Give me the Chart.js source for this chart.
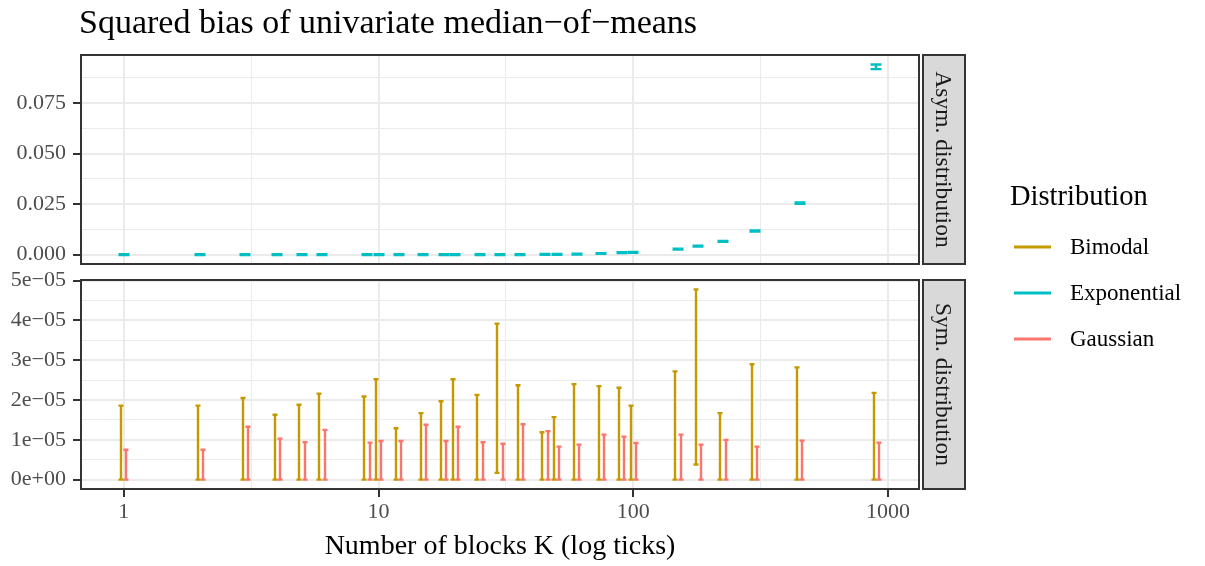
<!DOCTYPE html>
<html>
<head>
<meta charset="utf-8">
<title>Squared bias of univariate median−of−means</title>
<script src="https://cdn.jsdelivr.net/npm/chart.js@4.4.1/dist/chart.umd.min.js"></script>
<style>
  body { margin: 0; background: #fff; }
  #wrap { position: relative; width: 1205px; height: 566px; }
  #wrap canvas { position: absolute; left: 0; top: 0; width: 1205px; height: 566px; }
</style>
</head>
<body>
<div id="wrap">
  <canvas id="symChart" width="1205" height="566"></canvas>
  <canvas id="asymChart" width="1205" height="566"></canvas>
</div>
<script>
// number of blocks K (divisors of 900)
const blocks = [1, 2, 3, 4, 5, 6, 9, 10, 12, 15, 18, 20, 25, 30, 36, 45, 50, 60, 75, 90, 100, 150, 180, 225, 300, 450, 900];

// asymmetric case: exponential, interval bounds of the squared bias
const expLow = [-0.0002, -0.0002, -0.0002, -0.0002, -0.0002, -0.0002, -0.0002, -0.0002, -0.0002, -0.0002,
  -0.0002, -0.0002, -0.0002, -0.0002, -0.0002, 0.0000, 0.0000, 0.0001, 0.0004, 0.0008,
  0.0009, 0.0026, 0.0040, 0.0064, 0.0114, 0.0252, 0.0918];
const expHigh = [0.0002, 0.0002, 0.0002, 0.0002, 0.0002, 0.0002, 0.0002, 0.0002, 0.0002, 0.0002,
  0.0002, 0.0002, 0.0002, 0.0002, 0.0002, 0.0004, 0.0004, 0.0005, 0.0008, 0.0012,
  0.0013, 0.0030, 0.0044, 0.0068, 0.0120, 0.0258, 0.0941];

// symmetric cases: bimodal and gaussian
const bimodalLow = [0, 0, 0, 0, 0, 0, 0, 0, 0, 0, 0, 0, 0, 0.17e-5, 0, 0, 0, 0, 0, 0,
  0, 0, 0.38e-5, 0, 0, 0, 0];
const bimodalHigh = [1.86e-5, 1.86e-5, 2.05e-5, 1.63e-5, 1.88e-5, 2.16e-5, 2.09e-5, 2.52e-5, 1.29e-5, 1.67e-5,
  1.97e-5, 2.52e-5, 2.13e-5, 3.92e-5, 2.37e-5, 1.19e-5, 1.57e-5, 2.40e-5, 2.35e-5, 2.31e-5,
  1.86e-5, 2.72e-5, 4.78e-5, 1.67e-5, 2.90e-5, 2.82e-5, 2.18e-5];
const gaussLow = [0, 0, 0, 0, 0, 0, 0, 0, 0, 0, 0, 0, 0, 0, 0, 0, 0, 0, 0, 0,
  0, 0, 0, 0, 0, 0, 0];
const gaussHigh = [0.75e-5, 0.75e-5, 1.33e-5, 1.03e-5, 0.94e-5, 1.25e-5, 0.93e-5, 0.97e-5, 0.97e-5, 1.38e-5,
  0.97e-5, 1.33e-5, 0.94e-5, 0.90e-5, 1.39e-5, 1.22e-5, 0.83e-5, 0.88e-5, 1.13e-5, 1.08e-5,
  0.92e-5, 1.13e-5, 0.88e-5, 1.00e-5, 0.83e-5, 0.98e-5, 0.93e-5];

const seriesNames = ['Bimodal', 'Exponential', 'Gaussian'];
const seriesColors = ['#C49A00', '#00BFC4', '#F8766D'];

// axis ticks (empty label = minor grid line)
const xTickVals = [1, 3.1623, 10, 31.623, 100, 316.23, 1000];
const xTickLabels = ['1', '', '10', '', '100', '', '1000'];
const asymTickVals = [0, 0.0125, 0.025, 0.0375, 0.05, 0.0625, 0.075, 0.0875];
const asymTickLabels = ['0.000', '', '0.025', '', '0.050', '', '0.075', ''];
const symTickVals = [0, 0.5e-5, 1e-5, 1.5e-5, 2e-5, 2.5e-5, 3e-5, 3.5e-5, 4e-5, 4.5e-5, 5e-5];
const symTickLabels = ['0e+00', '', '1e−05', '', '2e−05', '', '3e−05', '', '4e−05', '', '5e−05'];

const FONT = "'Liberation Serif', 'Times New Roman', serif";
const GRID = '#EBEBEB';
const DARK = '#333333';
const X_MIN = 0.679, X_MAX = 1324;

function intervals(low, high) {
  return blocks.map((k, i) => ({ x: k, y: (low[i] + high[i]) / 2, yMin: low[i], yMax: high[i] }));
}

// vertical interval with caps for every point
const errorBars = {
  id: 'errorBars',
  afterDatasetsDraw(chart) {
    const { ctx, scales: { x, y } } = chart;
    ctx.save();
    chart.data.datasets.forEach(ds => {
      ctx.strokeStyle = ds.borderColor;
      ctx.lineWidth = 2.4;
      ctx.lineCap = 'butt';
      ds.data.forEach(p => {
        const px = Math.round(x.getPixelForValue(p.x) + ds.dodge);
        const y0 = y.getPixelForValue(p.yMin);
        const y1 = y.getPixelForValue(p.yMax);
        const w = ds.capHalf;
        ctx.beginPath();
        ctx.moveTo(px, y0); ctx.lineTo(px, y1);
        ctx.moveTo(px - w, y0); ctx.lineTo(px + w, y0);
        ctx.moveTo(px - w, y1); ctx.lineTo(px + w, y1);
        ctx.stroke();
      });
    });
    ctx.restore();
  }
};

// panel border and the facet strip on the right
const panelFrame = {
  id: 'panelFrame',
  afterDraw(chart, args, opts) {
    const { ctx, chartArea: a } = chart;
    ctx.save();
    ctx.strokeStyle = DARK;
    ctx.lineWidth = 2;
    ctx.strokeRect(a.left, a.top, a.right - a.left, a.bottom - a.top);
    const sx = a.right + 4, sw = 42;
    ctx.fillStyle = '#D9D9D9';
    ctx.fillRect(sx, a.top, sw, a.bottom - a.top);
    ctx.strokeRect(sx, a.top, sw, a.bottom - a.top);
    ctx.translate(sx + sw / 2 - 8, (a.top + a.bottom) / 2);
    ctx.rotate(Math.PI / 2);
    ctx.fillStyle = '#1A1A1A';
    ctx.font = '23.5px ' + FONT;
    ctx.textAlign = 'center';
    ctx.textBaseline = 'alphabetic';
    ctx.fillText(opts.label, 0, 0);
    ctx.restore();
  }
};

// title, x axis title and legend
const decorations = {
  id: 'decorations',
  afterDraw(chart) {
    const { ctx, chartArea: a } = chart;
    ctx.save();
    ctx.fillStyle = '#000';
    ctx.textBaseline = 'alphabetic';
    ctx.font = '34px ' + FONT;
    ctx.textAlign = 'left';
    ctx.fillText('Squared bias of univariate median−of−means', 79, 33);

    ctx.font = '28px ' + FONT;
    ctx.textAlign = 'center';
    ctx.fillText('Number of blocks K (log ticks)', (a.left + a.right) / 2, 554);

    ctx.textAlign = 'left';
    ctx.font = '28.5px ' + FONT;
    ctx.fillText('Distribution', 1010, 205);
    ctx.font = '23px ' + FONT;
    seriesNames.forEach((name, i) => {
      const ky = 247 + i * 46;
      ctx.strokeStyle = seriesColors[i];
      ctx.lineWidth = 3;
      ctx.beginPath();
      ctx.moveTo(1014, ky); ctx.lineTo(1051, ky);
      ctx.stroke();
      ctx.fillStyle = '#000';
      ctx.fillText(name, 1070, ky + 7);
    });
    ctx.restore();
  }
};

function xScale(showLabels) {
  return {
    type: 'logarithmic',
    min: X_MIN,
    max: X_MAX,
    border: { display: false },
    afterBuildTicks: s => { s.ticks = xTickVals.map(v => ({ value: v })); },
    afterFit: s => { s.height = showLabels ? 77 : 0; },
    grid: {
      color: GRID,
      lineWidth: c => (xTickLabels[c.index] ? 2 : 1),
      drawTicks: showLabels,
      tickLength: 8,
      tickColor: c => (xTickLabels[c.index] ? DARK : 'rgba(0,0,0,0)'),
      tickWidth: 2
    },
    ticks: {
      display: showLabels,
      autoSkip: false,
      maxRotation: 0,
      padding: 2,
      color: '#4D4D4D',
      font: { family: FONT, size: 22 },
      callback: (v, i) => xTickLabels[i]
    }
  };
}

function yScale(min, max, vals, labels) {
  return {
    type: 'linear',
    min: min,
    max: max,
    border: { display: false },
    afterBuildTicks: s => { s.ticks = vals.map(v => ({ value: v })); },
    afterFit: s => { s.width = 81; },
    grid: {
      color: GRID,
      lineWidth: c => (labels[c.index] ? 2 : 1),
      tickLength: 8,
      tickColor: c => (labels[c.index] ? DARK : 'rgba(0,0,0,0)'),
      tickWidth: 2
    },
    ticks: {
      autoSkip: false,
      padding: 7,
      color: '#4D4D4D',
      font: { family: FONT, size: 22 },
      callback: (v, i) => labels[i]
    }
  };
}

const common = {
  responsive: false,
  animation: false,
  devicePixelRatio: 1,
  events: []
};

// lower panel: symmetric distributions
new Chart(document.getElementById('symChart'), {
  type: 'scatter',
  data: {
    datasets: [
      { label: seriesNames[0], data: intervals(bimodalLow, bimodalHigh), borderColor: seriesColors[0],
        pointRadius: 0, dodge: -2.65, capHalf: 2.5 },
      { label: seriesNames[2], data: intervals(gaussLow, gaussHigh), borderColor: seriesColors[2],
        pointRadius: 0, dodge: 2.65, capHalf: 2.5 }
    ]
  },
  options: Object.assign({}, common, {
    layout: { padding: { left: 0, right: 286, top: 280, bottom: 0 } },
    scales: {
      x: xScale(true),
      y: yScale(-0.235e-5, 5.015e-5, symTickVals, symTickLabels)
    },
    plugins: {
      legend: { display: false },
      tooltip: { enabled: false },
      panelFrame: { label: 'Sym. distribution' }
    }
  }),
  plugins: [errorBars, panelFrame, decorations]
});

// upper panel: asymmetric distribution
new Chart(document.getElementById('asymChart'), {
  type: 'scatter',
  data: {
    datasets: [
      { label: seriesNames[1], data: intervals(expLow, expHigh), borderColor: seriesColors[1],
        pointRadius: 0, dodge: 0, capHalf: 5.5 }
    ]
  },
  options: Object.assign({}, common, {
    layout: { padding: { left: 0, right: 286, top: 55, bottom: 302 } },
    scales: {
      x: xScale(false),
      y: yScale(-0.0046, 0.0988, asymTickVals, asymTickLabels)
    },
    plugins: {
      legend: { display: false },
      tooltip: { enabled: false },
      panelFrame: { label: 'Asym. distribution' }
    }
  }),
  plugins: [errorBars, panelFrame]
});
</script>
</body>
</html>
